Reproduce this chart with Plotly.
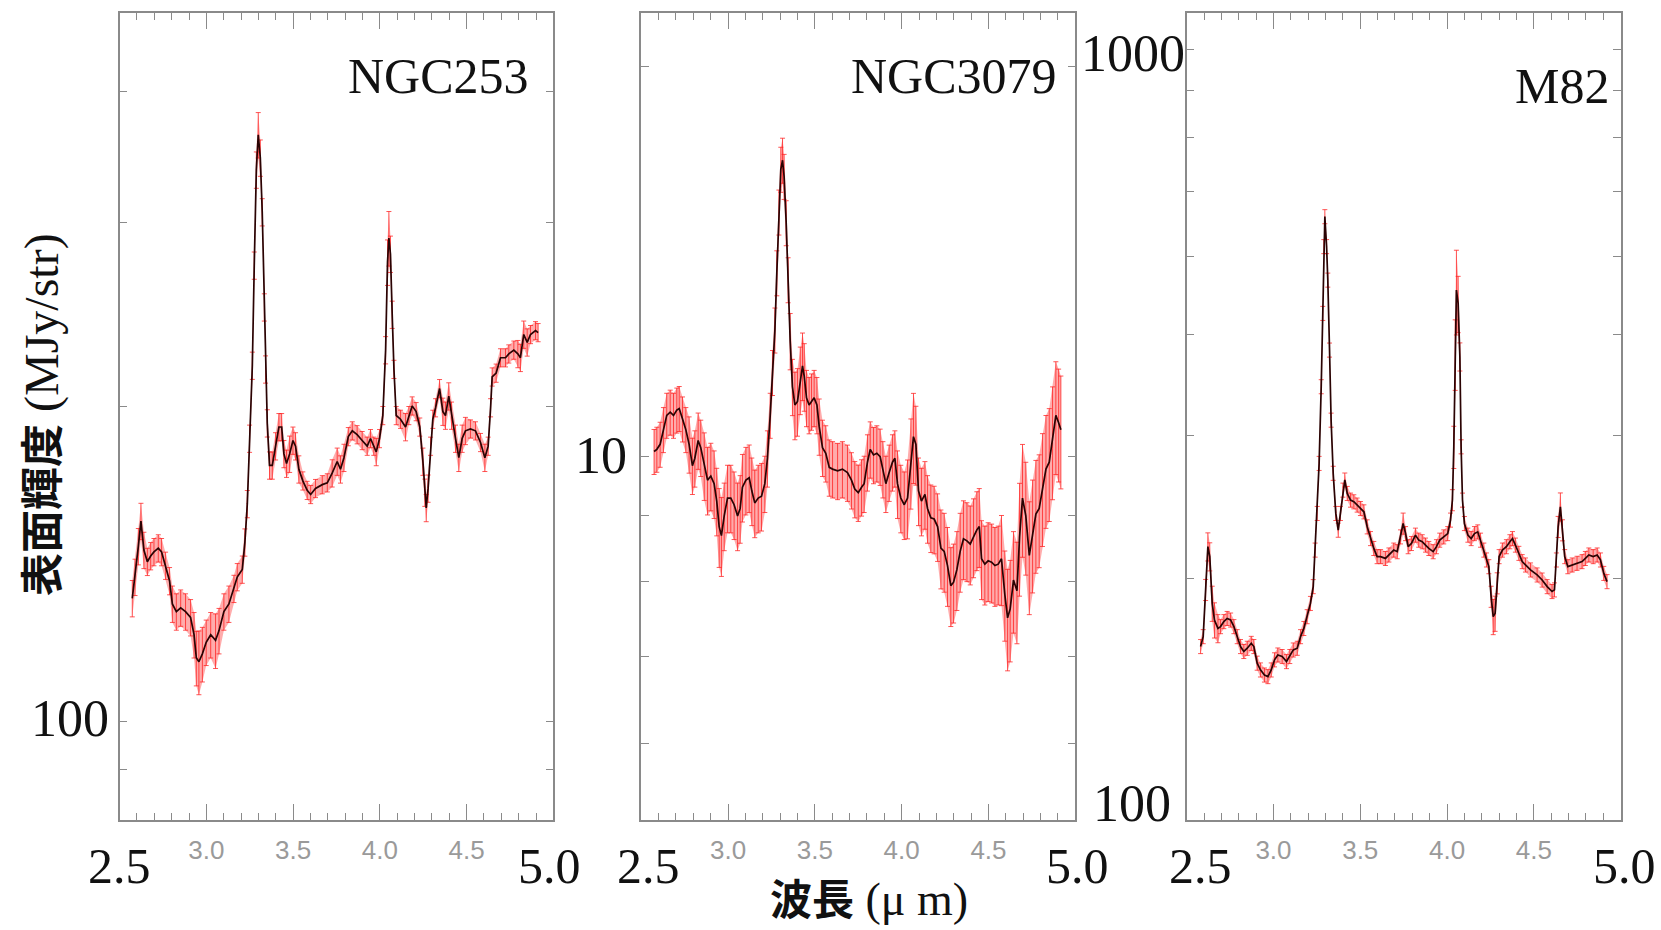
import numpy as np
import plotly.graph_objects as go

# ---------------- data ----------------
# NGC253
wl_ngc253 = [2.573, 2.589, 2.608, 2.623, 2.640, 2.660, 2.679, 2.698, 2.723, 2.742, 2.765, 2.788,
             2.804, 2.827, 2.852, 2.880, 2.909, 2.929, 2.942, 2.957, 2.977, 2.999, 3.025, 3.053,
             3.073, 3.101, 3.130, 3.159, 3.178, 3.207, 3.222, 3.236, 3.249, 3.265, 3.276, 3.288,
             3.299, 3.311, 3.322, 3.334, 3.341, 3.351, 3.364, 3.380, 3.399, 3.418, 3.434, 3.447,
             3.462, 3.480, 3.499, 3.514, 3.533, 3.556, 3.581, 3.601, 3.629, 3.668, 3.697, 3.725,
             3.754, 3.773, 3.793, 3.818, 3.841, 3.869, 3.898, 3.927, 3.946, 3.965, 3.979, 3.998,
             4.017, 4.033, 4.044, 4.052, 4.061, 4.071, 4.081, 4.094, 4.119, 4.148, 4.167, 4.186,
             4.209, 4.230, 4.248, 4.259, 4.267, 4.278, 4.292, 4.305, 4.321, 4.344, 4.363, 4.378,
             4.397, 4.413, 4.436, 4.455, 4.474, 4.493, 4.522, 4.551, 4.580, 4.605, 4.624, 4.638,
             4.647, 4.670, 4.695, 4.724, 4.743, 4.772, 4.795, 4.810, 4.829, 4.849, 4.868, 4.897,
             4.912]
sb_ngc253 = [131.2, 137.5, 147.1, 155.5, 145.9, 142.2, 144.0, 145.3, 146.5, 145.3, 141.0, 136.3,
             129.6, 127.4, 128.5, 127.4, 125.8, 121.1, 115.1, 114.1, 116.1, 119.1, 121.1, 119.6,
             122.2, 127.4, 129.6, 134.0, 137.5, 139.8, 148.4, 161.5, 186.5, 219.0, 273.0, 337.0,
             364.0, 346.0, 307.0, 249.0, 217.2, 192.9, 175.8, 175.8, 183.4, 191.3, 191.3, 180.3,
             176.5, 180.3, 185.7, 183.4, 174.3, 169.9, 166.4, 164.9, 167.1, 168.5, 169.2, 172.8,
             177.3, 174.3, 178.8, 187.3, 189.7, 188.1, 185.7, 183.4, 186.5, 183.4, 181.1, 186.5,
             196.2, 226.6, 275.0, 290.0, 280.0, 245.0, 217.2, 196.2, 194.6, 191.3, 196.2, 200.4,
             197.9, 191.3, 177.3, 165.6, 160.1, 167.1, 183.4, 194.6, 199.6, 208.2, 197.9, 196.2,
             204.7, 196.2, 186.5, 178.8, 186.5, 189.7, 190.5, 189.7, 184.9, 178.8, 183.4, 199.6,
             213.6, 215.4, 222.8, 222.8, 224.7, 226.6, 224.7, 222.8, 234.5, 230.5, 234.5, 236.5,
             235.5]
err_ngc253 = [4, 4, 4, 4, 4, 3, 3, 3, 3, 3, 3, 3,
              4, 4, 4, 4, 4, 5, 6, 7, 6, 5, 5, 6,
              5, 4, 4, 3, 3, 3, 3, 3, 3, 3, 3, 4,
              5, 4, 3, 3, 3, 3, 3, 3, 3, 3, 3, 3,
              3, 4, 3, 3, 3, 2, 2, 2, 2, 2, 2, 3,
              3, 3, 3, 2, 2, 2, 2, 2, 2, 2, 3, 2,
              2, 3, 5, 6, 4, 3, 2, 2, 2, 3, 2, 2,
              2, 2, 3, 3, 3, 3, 2, 2, 2, 2, 3, 3,
              3, 3, 3, 3, 3, 3, 2, 2, 2, 3, 2, 2,
              2, 2, 2, 2, 2, 2, 3, 3, 3, 3, 2, 2,
              2]

# NGC3079
wl_ngc3079 = [2.574, 2.590, 2.609, 2.628, 2.647, 2.667, 2.686, 2.705, 2.719, 2.738, 2.757, 2.776,
              2.795, 2.809, 2.828, 2.843, 2.863, 2.882, 2.901, 2.920, 2.935, 2.949, 2.962, 2.978,
              2.997, 3.016, 3.035, 3.055, 3.070, 3.083, 3.103, 3.122, 3.137, 3.154, 3.174, 3.193,
              3.212, 3.227, 3.243, 3.256, 3.270, 3.281, 3.293, 3.304, 3.314, 3.323, 3.335, 3.346,
              3.358, 3.371, 3.385, 3.400, 3.416, 3.429, 3.439, 3.452, 3.467, 3.481, 3.496, 3.512,
              3.525, 3.544, 3.563, 3.583, 3.602, 3.631, 3.659, 3.688, 3.711, 3.730, 3.750, 3.769,
              3.784, 3.803, 3.819, 3.838, 3.857, 3.876, 3.892, 3.909, 3.928, 3.947, 3.961, 3.976,
              3.995, 4.015, 4.034, 4.053, 4.068, 4.082, 4.097, 4.114, 4.134, 4.149, 4.168, 4.187,
              4.207, 4.226, 4.245, 4.264, 4.283, 4.299, 4.318, 4.337, 4.356, 4.376, 4.395, 4.414,
              4.433, 4.447, 4.460, 4.479, 4.498, 4.518, 4.537, 4.556, 4.575, 4.594, 4.610, 4.625,
              4.644, 4.664, 4.679, 4.696, 4.715, 4.735, 4.754, 4.773, 4.792, 4.811, 4.831, 4.850,
              4.869, 4.888, 4.904, 4.917]
sb_ngc3079 = [10.08, 10.12, 10.21, 10.48, 10.75, 10.81, 10.75, 10.85, 10.88, 10.68, 10.48, 10.21,
              9.83, 9.96, 10.28, 10.15, 9.83, 9.58, 9.65, 9.52, 9.23, 8.82, 8.68, 8.99,
              9.28, 9.28, 9.17, 8.99, 9.11, 9.46, 9.58, 9.62, 9.40, 9.20, 9.28, 9.31,
              9.52, 9.96, 10.75, 11.60, 12.51, 13.85, 15.43, 16.65, 16.92, 16.44, 15.14, 13.68,
              12.27, 11.31, 10.95, 11.02, 11.45, 11.74, 11.52, 11.09, 10.95, 11.02, 11.09, 10.95,
              10.54, 10.15, 10.05, 9.80, 9.77, 9.74, 9.77, 9.71, 9.58, 9.43, 9.37, 9.46,
              9.52, 9.89, 10.12, 10.02, 10.05, 9.99, 9.77, 9.52, 9.71, 9.89, 9.96, 9.52,
              9.28, 9.17, 9.28, 9.89, 10.35, 10.21, 9.40, 9.23, 9.34, 9.11, 8.96, 8.94,
              8.82, 8.49, 8.44, 8.23, 7.94, 7.99, 8.17, 8.44, 8.63, 8.60, 8.55, 8.66,
              8.77, 8.82, 8.33, 8.25, 8.30, 8.28, 8.23, 8.25, 8.33, 7.82, 7.50, 7.62,
              8.02, 7.87, 8.66, 9.28, 8.99, 8.38, 8.71, 9.02, 9.11, 9.46, 9.77, 9.89,
              10.28, 10.75, 10.61, 10.48]
err_ngc3079 = [4, 4, 4, 4, 4, 4, 4, 4, 4, 4, 4, 5,
               5, 5, 5, 5, 6, 6, 6, 6, 6, 7, 7, 6,
               6, 6, 6, 6, 6, 6, 6, 6, 6, 6, 6, 6,
               5, 5, 4, 4, 4, 4, 4, 4, 4, 4, 4, 4,
               5, 5, 6, 6, 6, 6, 6, 5, 5, 5, 5, 5,
               5, 5, 5, 5, 5, 5, 5, 5, 5, 5, 5, 5,
               5, 5, 5, 5, 5, 5, 5, 5, 5, 5, 5, 6,
               6, 6, 7, 8, 8, 7, 6, 6, 6, 6, 6, 6,
               6, 7, 7, 7, 7, 7, 7, 7, 7, 7, 7, 7,
               7, 7, 7, 7, 7, 7, 7, 7, 8, 8, 9, 9,
               9, 9, 10, 10, 10, 10, 10, 10, 10, 10, 10, 10,
               10, 10, 10, 10]

# M82
wl_m82 = [2.580, 2.595, 2.609, 2.622, 2.633, 2.647, 2.660, 2.680, 2.695, 2.714, 2.733, 2.753,
          2.772, 2.791, 2.810, 2.829, 2.849, 2.872, 2.887, 2.906, 2.925, 2.948, 2.968, 2.987,
          3.006, 3.025, 3.050, 3.075, 3.094, 3.114, 3.137, 3.156, 3.175, 3.194, 3.213, 3.229,
          3.240, 3.252, 3.263, 3.275, 3.284, 3.290, 3.296, 3.306, 3.313, 3.323, 3.332, 3.344,
          3.359, 3.373, 3.386, 3.400, 3.411, 3.425, 3.444, 3.463, 3.482, 3.501, 3.521, 3.540,
          3.559, 3.578, 3.597, 3.617, 3.645, 3.665, 3.693, 3.713, 3.732, 3.747, 3.761, 3.776,
          3.795, 3.818, 3.837, 3.857, 3.876, 3.895, 3.920, 3.939, 3.958, 3.981, 4.004, 4.020,
          4.031, 4.039, 4.047, 4.054, 4.064, 4.074, 4.081, 4.089, 4.100, 4.120, 4.139, 4.158,
          4.177, 4.193, 4.212, 4.227, 4.241, 4.254, 4.266, 4.277, 4.289, 4.300, 4.319, 4.342,
          4.362, 4.377, 4.394, 4.414, 4.433, 4.452, 4.481, 4.519, 4.548, 4.577, 4.605, 4.619,
          4.630, 4.640, 4.653, 4.665, 4.678, 4.696, 4.721, 4.749, 4.778, 4.797, 4.817, 4.842,
          4.865, 4.884, 4.903, 4.922]
sb_m82 = [164.6, 169.3, 193.4, 218.7, 212.6, 186.1, 177.5, 173.3, 174.2, 176.7, 178.3, 177.5,
          174.2, 169.3, 164.6, 162.3, 163.8, 166.1, 164.6, 157.0, 154.0, 151.8, 151.1, 154.0,
          158.5, 160.7, 160.0, 157.7, 160.0, 163.0, 163.8, 169.3, 173.3, 179.2, 186.1, 195.2,
          216.6, 240.4, 277.2, 344.8, 424.8, 513.7, 559.4, 513.7, 467.0, 382.7, 313.5, 269.5,
          240.4, 229.2, 240.4, 256.9, 264.4, 254.5, 249.7, 248.5, 246.2, 243.8, 241.5, 231.4,
          223.8, 217.6, 212.6, 212.6, 211.5, 213.6, 216.6, 215.6, 224.9, 233.6, 227.0, 218.7,
          220.7, 226.0, 222.8, 221.8, 219.7, 217.6, 215.6, 218.7, 222.8, 224.9, 227.0, 235.9,
          249.7, 290.6, 379.1, 453.9, 437.0, 375.5, 290.6, 249.7, 233.6, 226.0, 223.8, 227.0,
          228.1, 222.8, 216.6, 210.6, 206.6, 189.7, 179.2, 180.9, 197.1, 212.6, 216.6, 218.7,
          221.8, 223.8, 219.7, 214.6, 209.6, 207.6, 204.7, 201.8, 198.9, 195.2, 192.5, 193.4,
          210.6, 231.4, 245.0, 229.2, 212.6, 206.6, 207.6, 208.6, 209.6, 211.5, 213.6, 212.6,
          213.6, 210.6, 202.7, 198.0]
err_m82 = [2, 2, 3, 4, 4, 5, 5, 4, 2, 2, 2, 2,
           2, 2, 2, 2, 2, 2, 2, 2, 2, 2, 2, 2,
           2, 2, 2, 2, 2, 2, 2, 2, 2, 2, 2, 2,
           2, 2, 2, 2, 2, 2, 2, 2, 2, 2, 2, 2,
           2, 2, 2, 2, 2, 2, 2, 2, 2, 2, 2, 2,
           2, 2, 2, 2, 2, 2, 2, 2, 2, 3, 2, 2,
           2, 2, 2, 2, 2, 2, 2, 2, 2, 2, 2, 2,
           3, 6, 10, 12, 8, 4, 2, 2, 2, 2, 2, 2,
           2, 2, 2, 2, 2, 3, 5, 5, 3, 2, 2, 2,
           2, 2, 2, 2, 2, 2, 2, 2, 2, 2, 2, 2,
           2, 3, 4, 3, 2, 2, 2, 2, 2, 2, 2, 2,
           2, 2, 2, 2]

galaxy_names = ["NGC253", "NGC3079", "M82"]
x_ticks_small = [3.0, 3.5, 4.0, 4.5]
x_tick_text = ["3.0", "3.5", "4.0", "4.5"]
y_tickvals = [[90, 100, 200, 300, 400],
              [6, 7, 8, 9, 10, 20],
              [200, 300, 400, 500, 600, 700, 800, 900]]
y_log_ranges = [[1.906, 2.6772], [0.7189, 1.3419], [2.002, 2.999]]

# ---------------- figure ----------------
W, H = 1661, 930
def px(x):
    return x / W
def py(y):
    return 1 - y / H

x_domains = [[px(119.6), px(553.4)], [px(641.2), px(1075.3)], [px(1186.7), px(1620.6)]]
y_domain = [py(820), py(13.3)]

series = [(wl_ngc253, sb_ngc253, err_ngc253),
          (wl_ngc3079, sb_ngc3079, err_ngc3079),
          (wl_m82, sb_m82, err_m82)]

fig = go.Figure()
for i, (wl, sb, ep) in enumerate(series):
    xa = "x" if i == 0 else f"x{i+1}"
    ya = "y" if i == 0 else f"y{i+1}"
    sb = np.array(sb, dtype=float)
    err = sb * np.array(ep, dtype=float) / 100.0
    fig.add_trace(go.Scatter(x=wl, y=sb + err, mode="lines", line=dict(width=0),
                             hoverinfo="skip", showlegend=False, xaxis=xa, yaxis=ya))
    fig.add_trace(go.Scatter(x=wl, y=sb - err, mode="lines", line=dict(width=0),
                             fill="tonexty", fillcolor="rgba(255,90,90,0.5)",
                             hoverinfo="skip", showlegend=False, xaxis=xa, yaxis=ya))
    fig.add_trace(go.Scatter(x=wl, y=sb, mode="lines",
                             line=dict(color="#2a0303", width=1.7),
                             error_y=dict(type="data", array=err, visible=True,
                                          color="rgba(255,30,30,0.75)", thickness=1, width=2.5),
                             showlegend=False, xaxis=xa, yaxis=ya))

axis_color = "#8a8a8a"
layout = dict(width=W, height=H, margin=dict(l=0, r=0, t=0, b=0),
              paper_bgcolor="white", plot_bgcolor="white", showlegend=False)
for i in range(3):
    xk = "xaxis" if i == 0 else f"xaxis{i+1}"
    yk = "yaxis" if i == 0 else f"yaxis{i+1}"
    ya_ref = "y" if i == 0 else f"y{i+1}"
    xa_ref = "x" if i == 0 else f"x{i+1}"
    layout[xk] = dict(domain=x_domains[i], range=[2.5, 5.0], anchor=ya_ref,
                      showgrid=False, zeroline=False, showline=True, linecolor=axis_color,
                      linewidth=1.5, mirror="allticks", ticks="inside", ticklen=16,
                      tickwidth=1.3, tickcolor=axis_color,
                      tickvals=x_ticks_small, ticktext=x_tick_text,
                      tickfont=dict(family="Liberation Sans", size=26, color="#9a9a9a"),
                      ticklabelstandoff=6,
                      minor=dict(dtick=0.1, tick0=2.5, ticklen=7, tickwidth=1.1,
                                 tickcolor=axis_color, ticks="inside", showgrid=False))
    layout[yk] = dict(domain=y_domain, type="log", range=y_log_ranges[i], anchor=xa_ref,
                      showgrid=False, zeroline=False, showline=True, linecolor=axis_color,
                      linewidth=1.5, mirror="allticks", ticks="inside", ticklen=8,
                      tickwidth=1.2, tickcolor=axis_color, tickvals=y_tickvals[i],
                      showticklabels=False)
fig.update_layout(**layout)

serif = "Liberation Serif"
big = 50
annotations = []
def ann(text, x, y, xanchor="center", yanchor="middle", size=big, family=serif, angle=0):
    annotations.append(dict(text=text, x=px(x), y=py(y), xref="paper", yref="paper",
                            xanchor=xanchor, yanchor=yanchor, showarrow=False,
                            textangle=angle, font=dict(family=family, size=size, color="#111111")))

# galaxy names
ann(galaxy_names[0], 531, 76, xanchor="right")
ann(galaxy_names[1], 1059, 76, xanchor="right")
ann(galaxy_names[2], 1611, 86, xanchor="right")
# large x-end labels
ann("2.5", 119.6, 866); ann("5.0", 549, 866)
ann("2.5", 648.5, 866); ann("5.0", 1077, 866)
ann("2.5", 1200.5, 866); ann("5.0", 1624, 866)
# large y labels
ann("100", 111, 718, xanchor="right", size=52)
ann("10", 629, 456, xanchor="right", size=52)
ann("1000", 1187, 53, xanchor="right", size=52)
ann("100", 1173, 803, xanchor="right", size=52)
# axis titles
ann('<span style="font-family:Noto Sans CJK JP;font-weight:bold;font-size:43px">表面輝度</span> (MJy/str)',
    39, 415, angle=-90, size=48)
ann('<span style="font-family:Noto Sans CJK JP;font-weight:bold;font-size:42px">波長</span> (μ m)',
    869, 896, size=46)
fig.update_layout(annotations=annotations)

fig.write_html("out.html")
